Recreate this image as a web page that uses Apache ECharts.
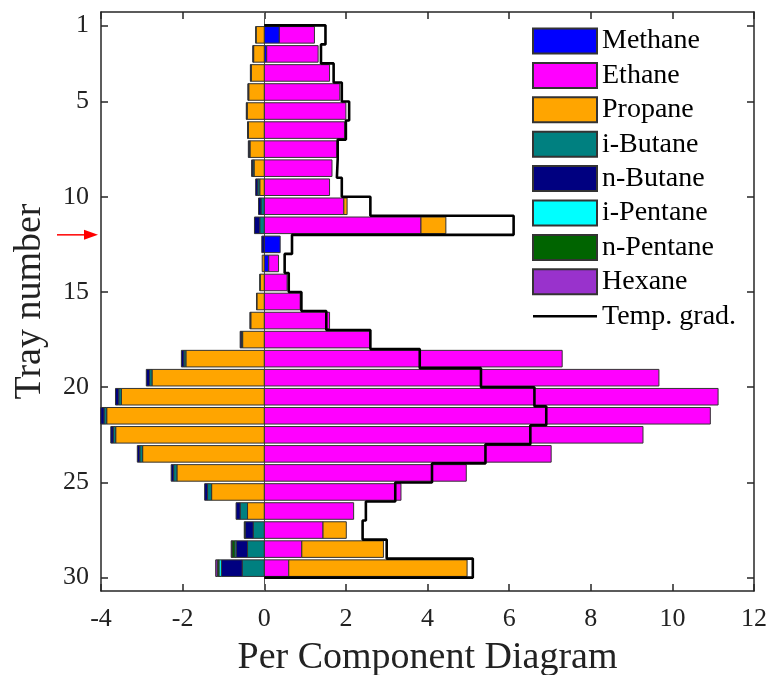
<!DOCTYPE html>
<html>
<head>
<meta charset="utf-8">
<script src="https://cdn.jsdelivr.net/npm/echarts@6/dist/echarts.min.js"></script>
<style>
  html, body { margin: 0; padding: 0; background: #fff; }
  #main { width: 772px; height: 675px; }
</style>
</head>
<body>
<div id="main"></div>
<script>
// tray intervals 1..29 (bar drawn between tray i and i+1)
var trays = [1,2,3,4,5,6,7,8,9,10,11,12,13,14,15,16,17,18,19,20,21,22,23,24,25,26,27,28,29];

var components = ['Methane','Ethane','Propane','i-Butane','n-Butane','i-Pentane','n-Pentane','Hexane'];
var colors = ['#0000ff','#ff00ff','#ffa500','#008080','#000080','#00ffff','#006400','#9932cc'];

var methane = [0.37,0.06,0,0,0,0,0,0,0,0,0,0.39,0.11,0,0,0,0,0,0,0,0,0,0,0,0,0,0,0,0];
var ethane = [0.86,1.26,1.60,1.85,2.00,1.97,1.78,1.66,1.60,1.95,3.84,0,0.24,0.56,0.88,1.60,2.60,
              7.30,9.67,11.12,10.93,9.28,7.03,4.95,3.35,2.19,1.44,0.92,0.60];
var propane = [-0.20,-0.26,-0.32,-0.38,-0.42,-0.39,-0.35,-0.25,-0.11,0.08,0.61,0,-0.05,-0.10,-0.18,-0.33,-0.53,
               -1.92,-2.75,-3.50,-3.86,-3.64,-2.98,-2.14,-1.29,-0.41,0.57,2.00,4.37];
var iButane = [-0.01,-0.01,-0.01,-0.01,-0.01,-0.01,-0.02,-0.03,-0.05,-0.08,-0.11,0,0,-0.01,-0.01,-0.01,-0.03,
               -0.05,-0.06,-0.065,-0.065,-0.06,-0.07,-0.08,-0.10,-0.18,-0.27,-0.41,-0.54];
var nButane = [0,-0.01,-0.01,-0.01,-0.01,-0.01,-0.02,-0.03,-0.05,-0.06,-0.13,-0.06,0,0,0,-0.01,-0.03,
               -0.06,-0.08,-0.08,-0.08,-0.06,-0.06,-0.06,-0.07,-0.10,-0.20,-0.28,-0.51];
var iPentane = [0,0,0,0,0,0,0,0,0,0,0,0,0,0,0,0,0,0,0,0,0,0,0,0,0,0,0,-0.03,-0.06];
var nPentane = [0,0,0,0,0,0,0,0,0,0,0,0,0,0,0,0,0,0,0,0,0,0,0,0,0,0,-0.02,-0.07,-0.04];
var hexane = [0,0,0,0,0,0,0,0,0,0,0,0,0,0,0,0,0,0,0,0,0,0,0,0,0,0,0,-0.02,-0.04];

var tempGrad = [1.50,1.39,1.70,1.90,2.08,2.00,1.80,1.78,1.90,2.60,6.11,0.68,0.50,0.60,0.91,1.52,2.60,
                3.81,5.31,6.62,6.91,6.52,5.42,4.11,3.21,2.49,2.41,3.00,5.11];

var yTicks = [1,5,10,15,20,25,30];
var arrowTray = 12;

var values = [methane, ethane, propane, iButane, nButane, iPentane, nPentane, hexane];

// stack positive and negative parts separately
var posAcc = trays.map(function () { return 0; });
var negAcc = trays.map(function () { return 0; });
var stacked = values.map(function (arr) {
  var out = [];
  arr.forEach(function (v, i) {
    if (v === 0) return;
    var start, end;
    if (v > 0) { start = posAcc[i]; end = start + v; posAcc[i] = end; }
    else { start = negAcc[i]; end = start + v; negAcc[i] = end; }
    out.push([trays[i] + 0.5, start, end]);
  });
  return out;
});

// stairs outline for the temperature gradient
var stairs = [[0, trays[0]]];
tempGrad.forEach(function (t, i) {
  stairs.push([t, trays[i]]);
  stairs.push([t, trays[i] + 1]);
});
stairs.push([0, trays[trays.length - 1] + 1]);

function renderBar(params, api) {
  var y = api.value(0), a = api.value(1), b = api.value(2);
  var p0 = api.coord([a, y]);
  var p1 = api.coord([b, y]);
  var h = api.size([0, 1])[1] * 0.87;
  return {
    type: 'rect',
    shape: {
      x: Math.min(p0[0], p1[0]),
      y: p0[1] - h / 2,
      width: Math.abs(p1[0] - p0[0]),
      height: h
    },
    style: api.style()
  };
}

var font = 'Liberation Serif';
var axisColor = '#262626';

var chart = echarts.init(document.getElementById('main'));

var series = components.map(function (name, k) {
  return {
    name: name,
    type: 'custom',
    renderItem: renderBar,
    encode: { x: [1, 2], y: 0 },
    itemStyle: { color: colors[k], borderColor: '#333', borderWidth: 1 },
    data: stacked[k],
    z: 2
  };
});

series.push({
  name: 'Temp. grad.',
  type: 'line',
  data: stairs,
  symbol: 'none',
  lineStyle: { color: '#000', width: 2.6 },
  itemStyle: { color: '#000' },
  z: 5,
  markLine: {
    silent: true,
    symbol: 'none',
    label: { show: false },
    lineStyle: { color: '#555', width: 1, type: 'solid' },
    data: [{ xAxis: 0 }],
    z: 1
  }
});

var option = {
  animation: false,
  backgroundColor: '#fff',
  textStyle: { fontFamily: font },
  grid: { left: 101, right: 18, top: 12, bottom: 84, outerBoundsMode: 'none', containLabel: false },
  legend: {
    orient: 'vertical',
    left: 532,
    top: 27,
    padding: 0,
    itemWidth: 64,
    itemHeight: 25,
    itemGap: 6.4,
    textStyle: { fontFamily: font, fontSize: 28, lineHeight: 25, color: '#000' },
    data: components.map(function (n) { return { name: n, icon: 'rect' }; })
      .concat([{ name: 'Temp. grad.', icon: 'path://M0,0L64,0L64,2.5L0,2.5Z' }])
  },
  xAxis: [{
    type: 'value',
    min: -4, max: 12, interval: 2,
    name: 'Per Component Diagram',
    nameLocation: 'middle',
    nameGap: 48,
    nameTextStyle: { fontFamily: font, fontSize: 38, color: '#222' },
    axisLine: { show: true, onZero: false, lineStyle: { color: axisColor, width: 1.5 } },
    axisTick: { show: true, inside: true, length: 7, lineStyle: { color: axisColor, width: 1.5 } },
    axisLabel: { fontFamily: font, fontSize: 26, color: '#222', margin: 15 },
    splitLine: { show: false }
  }, {
    type: 'value',
    position: 'top',
    min: -4, max: 12, interval: 2,
    axisLine: { show: true, onZero: false, lineStyle: { color: axisColor, width: 1.5 } },
    axisTick: { show: true, inside: true, length: 7, lineStyle: { color: axisColor, width: 1.5 } },
    axisLabel: { show: false },
    splitLine: { show: false }
  }],
  yAxis: [{
    type: 'value',
    inverse: true,
    min: 0.3, max: 30.7,
    name: 'Tray number',
    nameLocation: 'middle',
    nameGap: 52,
    nameTextStyle: { fontFamily: font, fontSize: 38, color: '#222' },
    axisLine: { show: true, onZero: false, lineStyle: { color: axisColor, width: 1.5 } },
    axisTick: { show: true, inside: true, length: 7, customValues: yTicks, lineStyle: { color: axisColor, width: 1.5 } },
    axisLabel: { fontFamily: font, fontSize: 26, color: '#222', margin: 12, customValues: yTicks },
    splitLine: { show: false }
  }, {
    type: 'value',
    position: 'right',
    inverse: true,
    min: 0.3, max: 30.7,
    axisLine: { show: true, onZero: false, lineStyle: { color: axisColor, width: 1.5 } },
    axisTick: { show: true, inside: true, length: 7, customValues: yTicks, lineStyle: { color: axisColor, width: 1.5 } },
    axisLabel: { show: false, customValues: yTicks },
    splitLine: { show: false }
  }],
  series: series
};

chart.setOption(option);

// red arrow marking the feed tray
var ay = chart.convertToPixel({ yAxisIndex: 0 }, arrowTray);
chart.setOption({
  graphic: [{
    type: 'group',
    children: [{
      type: 'line',
      shape: { x1: 57, y1: ay, x2: 88, y2: ay },
      style: { stroke: '#ff0000', lineWidth: 1.5 }
    }, {
      type: 'polygon',
      shape: { points: [[84, ay - 5], [98, ay], [84, ay + 5]] },
      style: { fill: '#ff0000' }
    }]
  }]
});
</script>
</body>
</html>
